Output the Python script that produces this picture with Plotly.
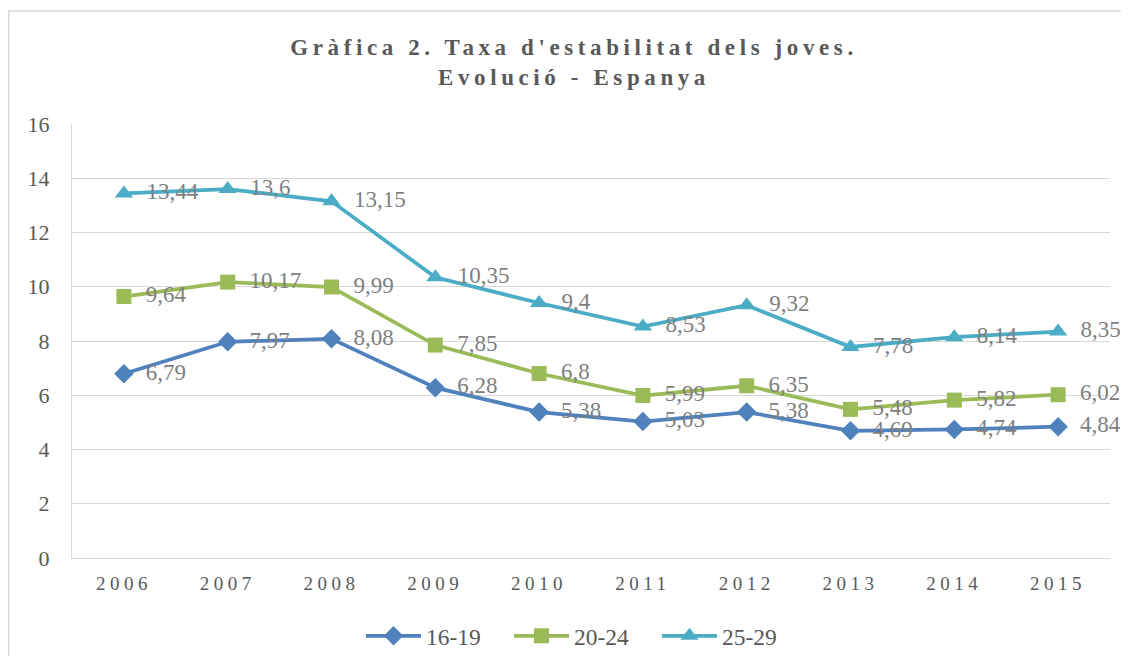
import plotly.graph_objects as go

years = ["2006", "2007", "2008", "2009", "2010", "2011", "2012", "2013", "2014", "2015"]
s_16_19 = [6.79, 7.97, 8.08, 6.28, 5.38, 5.03, 5.38, 4.69, 4.74, 4.84]
s_20_24 = [9.64, 10.17, 9.99, 7.85, 6.8, 5.99, 6.35, 5.48, 5.82, 6.02]
s_25_29 = [13.44, 13.6, 13.15, 10.35, 9.4, 8.53, 9.32, 7.78, 8.14, 8.35]
names = ["16-19", "20-24", "25-29"]
colors = ["#4F81BD", "#9BBB59", "#4BACC6"]
symbols = ["diamond", "square", "triangle-up"]
msizes = [15, 15, 16]
series = [s_16_19, s_20_24, s_25_29]

FONT = "Liberation Serif"
W, H = 1121, 648          # page adds 8px body margin on each side
L, R, T, B = 64, 19, 116, 98
PW = W - L - R
PH = H - T - B

def fmt(v):
    return "\u00a0\u00a0" + ("%g" % v).replace(".", ",")

fig = go.Figure()
for name, vals, col, sym, ms in zip(names, series, colors, symbols, msizes):
    fig.add_trace(go.Scatter(
        x=years, y=vals, name=name, mode="lines+markers+text",
        line=dict(color=col, width=3.75),
        marker=dict(symbol=sym, size=ms, color=col),
        text=[fmt(v) for v in vals],
        textposition="middle right",
        textfont=dict(family=FONT, size=23, color="#7F7F7F"),
        cliponaxis=False,
    ))

title_txt = ("<span style='letter-spacing:4.6px'><b>Gràfica 2. Taxa d'estabilitat dels joves.</b></span><br>"
             "<span style='letter-spacing:4.6px'><b>Evolució - Espanya</b></span>")

fig.update_layout(
    width=W, height=H,
    margin=dict(l=L, r=R, t=T, b=B, autoexpand=False),
    paper_bgcolor="white", plot_bgcolor="white",
    title=dict(text=title_txt, x=566 / W, xref="container", xanchor="center",
               y=1 - 47 / H, yref="container", yanchor="middle",
               font=dict(family=FONT, size=23, color="#595959")),
    xaxis=dict(type="category", range=[-0.5, 9.5], showgrid=False, showline=True,
               linecolor="#D9D9D9", linewidth=1, ticks="",
               tickfont=dict(family=FONT, size=19, color="#595959"),
               ticklabelstandoff=8,
               tickvals=years,
               ticktext=["<span style='letter-spacing:4.5px'>%s</span>" % y for y in years]),
    yaxis=dict(range=[0, 16], dtick=2, showgrid=True, gridcolor="#D9D9D9", gridwidth=1,
               showline=True, linecolor="#D9D9D9", zeroline=False, ticks="",
               ticklabelstandoff=17,
               tickfont=dict(family=FONT, size=22, color="#595959")),
    legend=dict(orientation="h", x=575 / W, xref="container", xanchor="center",
                y=1 - 628 / H, yref="container", yanchor="middle",
                font=dict(family=FONT, size=23.5, color="#595959"), itemwidth=55,
                entrywidth=78, entrywidthmode="pixels",
                traceorder="normal"),
    showlegend=True,
    shapes=[dict(type="rect", xref="paper", yref="paper",
                 x0=(0.75 - L) / PW, x1=(W + 20 - L) / PW,
                 y0=-(H + 20 - (T + PH)) / PH, y1=(T + PH - 3) / PH,
                 line=dict(color="#D9D9D9", width=1.5), layer="below")],
)

fig.write_html("out.html")
